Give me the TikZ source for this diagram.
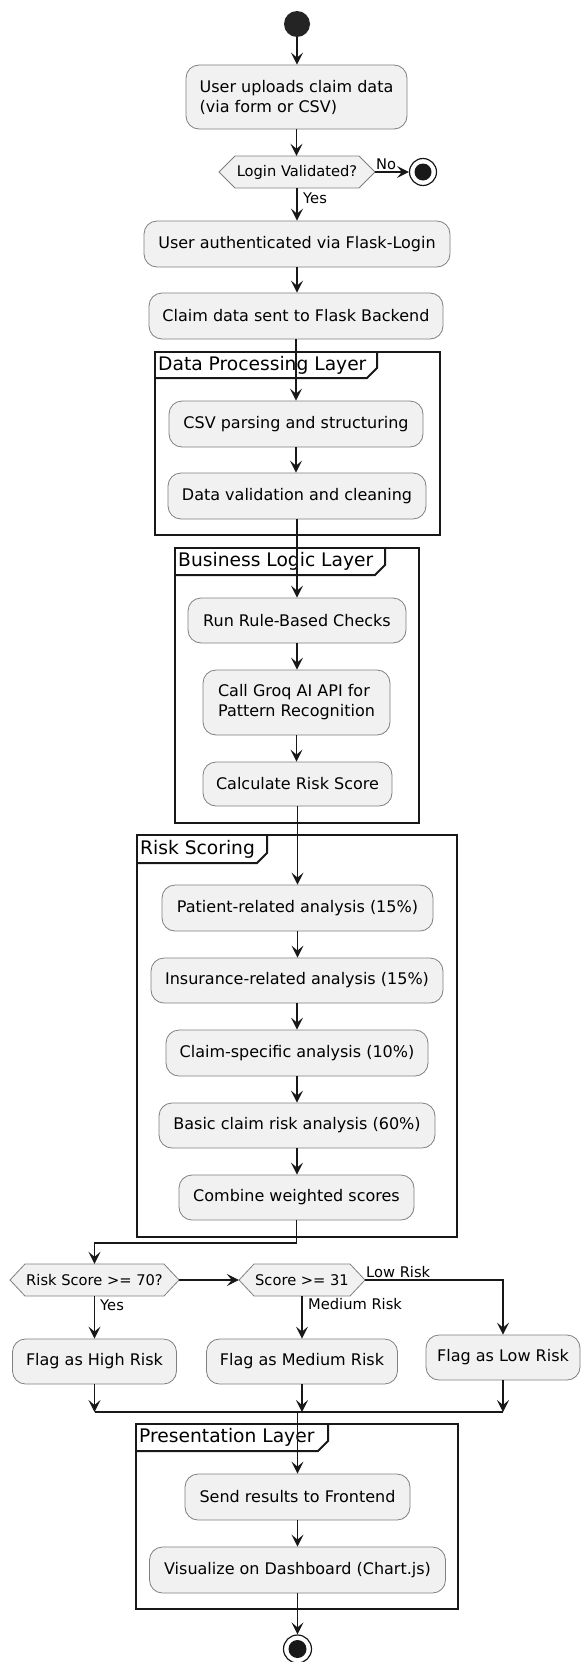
\documentclass[tikz,border=0pt]{standalone}
\usepackage{fontspec}
\setmainfont{DejaVu Sans}
\usetikzlibrary{arrows.meta,calc}
\definecolor{actfill}{HTML}{F1F1F1}
\definecolor{lnc}{HTML}{181818}
\begin{document}
\begin{tikzpicture}[x=1pt,y=-1pt,
  act/.style={draw=lnc!55, line width=0.8pt, fill=actfill, rounded corners=13pt, inner sep=0pt, font=\fontsize{16}{20}\selectfont},
  hexnode/.style={inner sep=0pt, minimum height=32pt, font=\fontsize{14.67}{17}\selectfont},
  hexshape/.style={draw=lnc!55, line width=0.8pt, fill=actfill},
  arr/.style={draw=lnc, line width=1.2pt, -{Stealth[length=12pt,width=12pt,inset=5pt]}},
  ln/.style={draw=lnc, line width=1.2pt},
  lbl/.style={inner sep=0pt, anchor=west, font=\fontsize{14.67}{17}\selectfont},
  grp/.style={draw=lnc, line width=2pt},
  ftitle/.style={inner sep=0pt, anchor=west, font=\fontsize{18.67}{22}\selectfont},
]
\useasboundingbox (0,0) rectangle (581,1662);
\fill[white] (0,0) rectangle (581,1662);

% ---------- group frames ----------
\draw[grp] (155,352) rectangle (440,535);
\draw[grp] (155,378) -- (367,378) -- (377,368) -- (377,352);
\node[ftitle] (tdp) at (158,365) {Data Processing Layer};

\draw[grp] (175,548) rectangle (419,823);
\draw[grp] (175,575) -- (375,575) -- (385,565) -- (385,548);
\node[ftitle] (tbl) at (178,561.5) {Business Logic Layer};

\draw[grp] (137,835) rectangle (457,1237);
\draw[grp] (137,863) -- (257,863) -- (267,853) -- (267,835);
\node[ftitle] (trs) at (140,849) {Risk Scoring};

\draw[grp] (136,1424) rectangle (458,1609);
\draw[grp] (136,1451) -- (318,1451) -- (328,1441) -- (328,1424);
\node[ftitle] (tpl) at (139,1437.5) {Presentation Layer};

% ---------- start ----------
\node[circle, fill=lnc!95, minimum size=26pt, inner sep=0pt] (start) at (297,24) {};

% ---------- activities ----------
\node[act, minimum width=221pt, minimum height=64pt, align=left] (b1) at (296.5,97) {User uploads claim data\\(via form or CSV)};

\path[hexshape] (219,172) -- (235,156) -- (359,156) -- (375,172) -- (359,188) -- (235,188) -- cycle;
\node[hexnode, minimum width=156pt] (login) at (297,172) {Login Validated?};

\node[circle, draw=lnc, line width=1.2pt, fill=white, minimum size=27pt, inner sep=0pt] (end1) at (423,172) {};
\node[circle, fill=lnc, minimum size=17pt, inner sep=0pt] (end1dot) at (end1) {};

\node[act, minimum width=306pt, minimum height=46pt] (b2) at (297,244) {User authenticated via Flask-Login};
\node[act, minimum width=294pt, minimum height=46pt] (b3) at (296,316) {Claim data sent to Flask Backend};

\node[act, minimum width=254pt, minimum height=46pt] (csv) at (296,424) {CSV parsing and structuring};
\node[act, minimum width=258pt, minimum height=46pt] (dv) at (297,496) {Data validation and cleaning};

\node[act, minimum width=218pt, minimum height=45pt] (run) at (297,620.5) {Run Rule-Based Checks};
\node[act, minimum width=187pt, minimum height=65pt, align=left] (groq) at (296.5,702.5) {Call Groq AI API for\\Pattern Recognition};
\node[act, minimum width=189pt, minimum height=44pt] (calc) at (297.5,784) {Calculate Risk Score};

\node[act, minimum width=271pt, minimum height=46pt] (pat) at (297.5,908) {Patient-related analysis (15\%)};
\node[act, minimum width=292pt, minimum height=45pt] (ins) at (297,980.5) {Insurance-related analysis (15\%)};
\node[act, minimum width=262pt, minimum height=46pt] (cs) at (297,1053) {Claim-specific analysis (10\%)};
\node[act, minimum width=276pt, minimum height=45pt] (basic) at (297,1125.5) {Basic claim risk analysis (60\%)};
\node[act, minimum width=235pt, minimum height=45pt] (comb) at (296.5,1197.5) {Combine weighted scores};

\path[hexshape] (10,1280) -- (25,1264) -- (164,1264) -- (179,1280) -- (164,1296) -- (25,1296) -- cycle;
\node[hexnode, minimum width=169pt] (r70) at (94.5,1280) {Risk Score >= 70?};
\path[hexshape] (239,1280) -- (254,1264) -- (350,1264) -- (365,1280) -- (350,1296) -- (254,1296) -- cycle;
\node[hexnode, minimum width=126pt] (r31) at (302,1280) {Score >= 31};

\node[act, minimum width=164pt, minimum height=45pt] (high) at (94.5,1361.5) {Flag as High Risk};
\node[act, minimum width=191pt, minimum height=45pt] (med) at (302,1361.5) {Flag as Medium Risk};
\node[act, minimum width=154pt, minimum height=45pt] (low) at (503,1357.5) {Flag as Low Risk};

\node[act, minimum width=225pt, minimum height=46pt] (send) at (297.5,1497) {Send results to Frontend};
\node[act, minimum width=296pt, minimum height=46pt] (vis) at (297.5,1570) {Visualize on Dashboard (Chart.js)};

\node[circle, draw=lnc, line width=1.2pt, fill=white, minimum size=28pt, inner sep=0pt] (end2) at (297.5,1649) {};
\node[circle, fill=lnc, minimum size=18pt, inner sep=0pt] (end2dot) at (end2) {};

% ---------- connectors ----------
\draw[arr] (start.south) -- (start.south |- b1.north);
\draw[arr] (b1.south) -- (b1.south |- login.north);
\draw[arr] (login.east) -- (end1.west);
\node[lbl] (lno) at (376,164) {No};
\draw[arr] (login.south) -- (login.south |- b2.north);
\node[lbl] (lyes1) at (303,198) {Yes};
\draw[arr] (b2.south) -- (b2.south |- b3.north);
\draw[arr] (b3.south) -- (b3.south |- csv.north);
\draw[arr] (csv.south) -- (csv.south |- dv.north);
\draw[arr] (dv.south) -- (dv.south |- run.north);
\draw[arr] (run.south) -- (run.south |- groq.north);
\draw[arr] (groq.south) -- (groq.south |- calc.north);
\draw[arr] (calc.south) -- (calc.south |- pat.north);
\draw[arr] (pat.south) -- (pat.south |- ins.north);
\draw[arr] (ins.south) -- (ins.south |- cs.north);
\draw[arr] (cs.south) -- (cs.south |- basic.north);
\draw[arr] (basic.south) -- (basic.south |- comb.north);
\coordinate (split) at (296.5,1243);
\draw[ln] (comb.south) -- (split);
\draw[arr] (split) -| (r70.north);
\draw[arr] (r70.east) -- (r31.west);
\draw[arr] (r70.south) -- (r70.south |- high.north);
\node[lbl] (lyes2) at (100,1305) {Yes};
\draw[arr] (r31.south) -- (r31.south |- med.north);
\node[lbl] (lmed) at (308,1304) {Medium Risk};
\draw[arr] (r31.east) -| (low.north);
\node[lbl] (llow) at (366,1272) {Low Risk};

\coordinate (merge) at (297.5,1412);
\draw[arr] (high.south) -- (high.south |- merge);
\draw[arr] (med.south) -- (med.south |- merge);
\draw[arr] (low.south) -- (low.south |- merge);
\draw[ln] (high.south |- merge) -- (low.south |- merge);
\draw[arr] (merge) -- (merge |- send.north);
\draw[arr] (send.south) -- (send.south |- vis.north);
\draw[arr] (vis.south) -- (vis.south |- end2.north);
\end{tikzpicture}
\end{document}
